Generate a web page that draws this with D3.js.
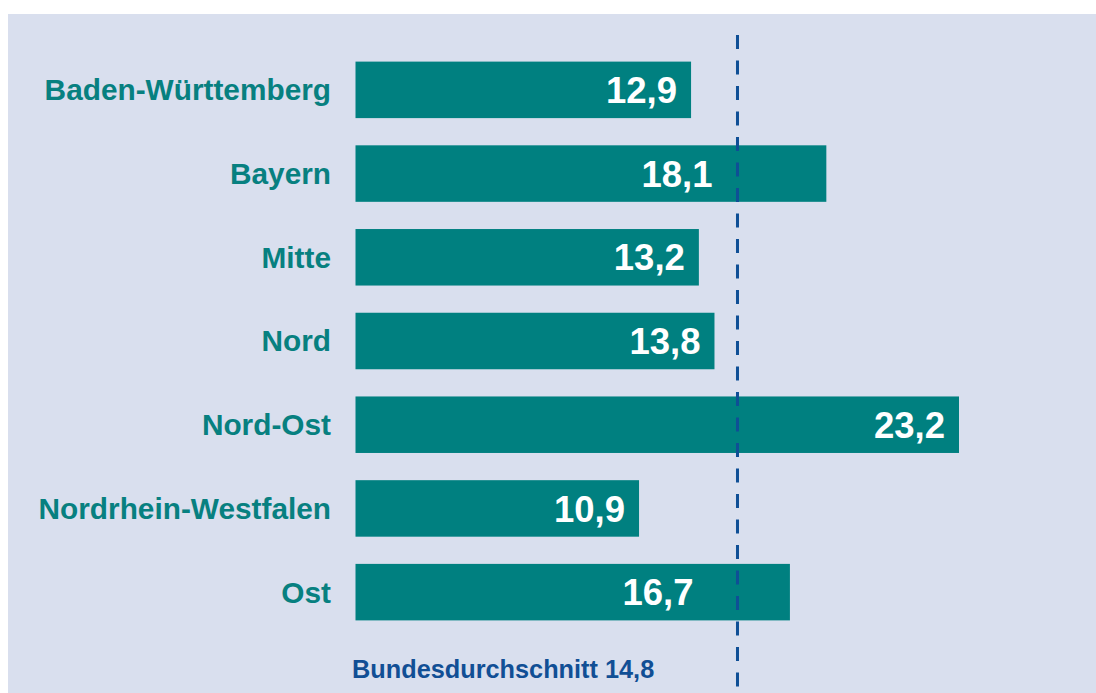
<!DOCTYPE html>
<html>
<head>
<meta charset="utf-8">
<script src="https://cdn.jsdelivr.net/npm/d3@7"></script>
<style>
  body { margin: 0; background: #fff; }
  svg { display: block; font-family: "Liberation Sans", Arial, sans-serif; }
</style>
</head>
<body>
<svg id="chart" width="1096" height="693"></svg>
<script>
// data
const regions = ['Baden-Württemberg', 'Bayern', 'Mitte', 'Nord', 'Nord-Ost', 'Nordrhein-Westfalen', 'Ost'];
const values = [12.9, 18.1, 13.2, 13.8, 23.2, 10.9, 16.7];
const average = 14.8;
const averageLabel = 'Bundesdurchschnitt';

const fmt = v => d3.format('.1f')(v).replace('.', ',');

const svg = d3.select('#chart');

// panel background
svg.append('rect')
  .attr('x', 8).attr('y', 14)
  .attr('width', 1088).attr('height', 679)
  .attr('fill', '#d9dfee');

const x = d3.scaleLinear()
  .domain([0, 23.2])
  .range([355.5, 959]);

const y = d3.scaleBand()
  .domain(regions)
  .range([48, 634])
  .paddingInner(0.325)
  .paddingOuter(0.1625);

const rows = regions.map((r, i) => ({ region: r, value: values[i] }));

// bars
svg.append('g')
  .selectAll('rect')
  .data(rows)
  .join('rect')
  .attr('x', x(0))
  .attr('y', d => y(d.region))
  .attr('width', d => x(d.value) - x(0))
  .attr('height', y.bandwidth())
  .attr('fill', '#008080');

// category labels
svg.append('g')
  .selectAll('text')
  .data(rows)
  .join('text')
  .attr('x', 331)
  .attr('y', d => y(d.region) + y.bandwidth() / 2)
  .attr('dy', '0.35em')
  .attr('text-anchor', 'end')
  .attr('font-size', 29.8)
  .attr('font-weight', 'bold')
  .attr('fill', '#078080')
  .text(d => d.region);

// value labels; moved left of the dashed average line when they would sit on it
const labelShift = { 'Ost': -19 };
const labelW = 72;
function labelEnd(d) {
  let end = x(d.value) - 14;
  const xa = x(average);
  if (end - labelW < xa && end > xa) end = xa - 28 + (labelShift[d.region] || 0);
  return end;
}
svg.append('g')
  .selectAll('text')
  .data(rows)
  .join('text')
  .attr('x', labelEnd)
  .attr('y', d => y(d.region) + y.bandwidth() / 2)
  .attr('dy', '0.36em')
  .attr('text-anchor', 'end')
  .attr('font-size', 36.5)
  .attr('font-weight', 'bold')
  .attr('fill', '#fff')
  .text(d => fmt(d.value));

// average line
svg.append('line')
  .attr('x1', x(average) - 3).attr('x2', x(average) - 3)
  .attr('y1', 35).attr('y2', 693)
  .attr('stroke', '#0f4f96')
  .attr('stroke-width', 3)
  .attr('stroke-dasharray', '14,11.5');

svg.append('text')
  .attr('x', 352)
  .attr('y', 678)
  .attr('font-size', 25.3)
  .attr('font-weight', 'bold')
  .attr('fill', '#114f95')
  .text(averageLabel + ' ' + fmt(average));
</script>
</body>
</html>
